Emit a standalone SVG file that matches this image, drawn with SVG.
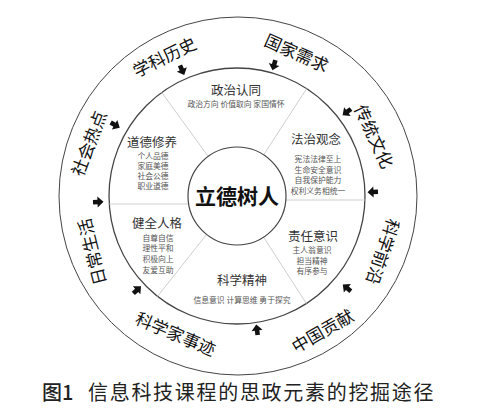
<svg xmlns="http://www.w3.org/2000/svg" width="500" height="412" viewBox="0 0 500 412">
<style>
text{font-family:"Noto Sans CJK SC","Noto Sans",sans-serif;}
.ring{fill:none;stroke:#444;}
.div{stroke:#cfcfcf;stroke-width:1;}
.outer{font-size:17px;fill:#111;text-anchor:middle;dominant-baseline:central;}
.ttl{font-size:12.5px;fill:#333;text-anchor:middle;}
.sub{font-size:7.8px;fill:#555;text-anchor:middle;}
.arr{fill:#111;}
</style>
<defs>
<path id="ar" d="M5.5,0 L-0.5,-5.5 L-0.5,-2.3 L-5,-2.3 L-5,2.3 L-0.5,2.3 L-0.5,5.5 Z"/>
</defs>
<rect width="500" height="412" fill="#fff"/>
<g id="rings">
<circle class="ring" cx="238" cy="196" r="179" stroke-width="1"/>
<circle class="ring" cx="237" cy="196" r="128" stroke-width="1.3"/>
</g>
<g id="connectors">
<line class="div" x1="208.2" y1="156.4" x2="161.7" y2="92.4"/>
<line class="div" x1="263.7" y1="154.9" x2="306.7" y2="88.6"/>
<line class="div" x1="188.7" y1="204" x2="109.3" y2="204"/>
<line class="div" x1="285.8" y1="200" x2="364.9" y2="200"/>
<line class="div" x1="206.6" y1="234.4" x2="157.5" y2="296.4"/>
<line class="div" x1="263.6" y1="237.2" x2="306.4" y2="303.6"/>
<g class="arr">
<use href="#ar" transform="translate(182,70) rotate(66)"/>
<use href="#ar" transform="translate(274,65) rotate(106)"/>
<use href="#ar" transform="translate(347,112) rotate(143)"/>
<use href="#ar" transform="translate(373,192) rotate(178)"/>
<use href="#ar" transform="translate(347,288) rotate(220)"/>
<use href="#ar" transform="translate(257,330) rotate(262)"/>
<use href="#ar" transform="translate(137,290) rotate(317)"/>
<use href="#ar" transform="translate(98,202) rotate(358)"/>
<use href="#ar" transform="translate(115,125) rotate(30)"/>
</g>
</g>
<g id="outer-labels">
<text class="outer" transform="translate(164,56) rotate(-26)">学科历史</text>
<text class="outer" transform="translate(297,52) rotate(24)">国家需求</text>
<text class="outer" transform="translate(375,136) rotate(65)">传统文化</text>
<text class="outer" transform="translate(384,252) rotate(109)">科学前沿</text>
<text class="outer" transform="translate(322,330) rotate(-30)">中国贡献</text>
<text class="outer" transform="translate(176,333) rotate(23)">科学家事迹</text>
<text class="outer" transform="translate(91,252) rotate(-104)">日常生活</text>
<text class="outer" transform="translate(88,143) rotate(-69)">社会热点</text>
</g>
<g id="center">
<circle class="ring" cx="237" cy="196" r="49" stroke-width="1.2" fill="#fff"/>
<text x="237" y="204" font-size="21" font-weight="bold" fill="#111" text-anchor="middle">立德树人</text>
</g>
<g id="seg-politics">
<text class="ttl" x="236" y="95">政治认同</text>
<text class="sub" x="236" y="107">政治方向 价值取向 家国情怀</text>
</g>
<g id="seg-law">
<text class="ttl" x="316" y="144">法治观念</text>
<text class="sub" x="318" y="162">宪法法律至上</text>
<text class="sub" x="318" y="172.5">生命安全意识</text>
<text class="sub" x="318" y="183">自我保护能力</text>
<text class="sub" x="318" y="193.5">权利义务相统一</text>
</g>
<g id="seg-moral">
<text class="ttl" x="152" y="147">道德修养</text>
<text class="sub" x="153" y="159">个人品德</text>
<text class="sub" x="153" y="169">家庭美德</text>
<text class="sub" x="153" y="179">社会公德</text>
<text class="sub" x="153" y="189">职业道德</text>
</g>
<g id="seg-personality">
<text class="ttl" x="157" y="228">健全人格</text>
<text class="sub" x="158" y="240.5">自尊自信</text>
<text class="sub" x="158" y="251">理性平和</text>
<text class="sub" x="158" y="262">积极向上</text>
<text class="sub" x="158" y="273">友爱互助</text>
</g>
<g id="seg-responsibility">
<text class="ttl" x="313" y="241">责任意识</text>
<text class="sub" x="312" y="253">主人翁意识</text>
<text class="sub" x="312" y="263.5">担当精神</text>
<text class="sub" x="312" y="274">有序参与</text>
</g>
<g id="seg-science">
<text class="ttl" x="242" y="285">科学精神</text>
<text class="sub" x="242" y="303">信息意识 计算思维 勇于探究</text>
</g>
<g id="caption">
<text x="42" y="400" font-size="20" fill="#222"><tspan font-weight="500">图1</tspan><tspan x="88" letter-spacing="1.7">信息科技课程的思政元素的挖掘途径</tspan></text>
</g>
</svg>
